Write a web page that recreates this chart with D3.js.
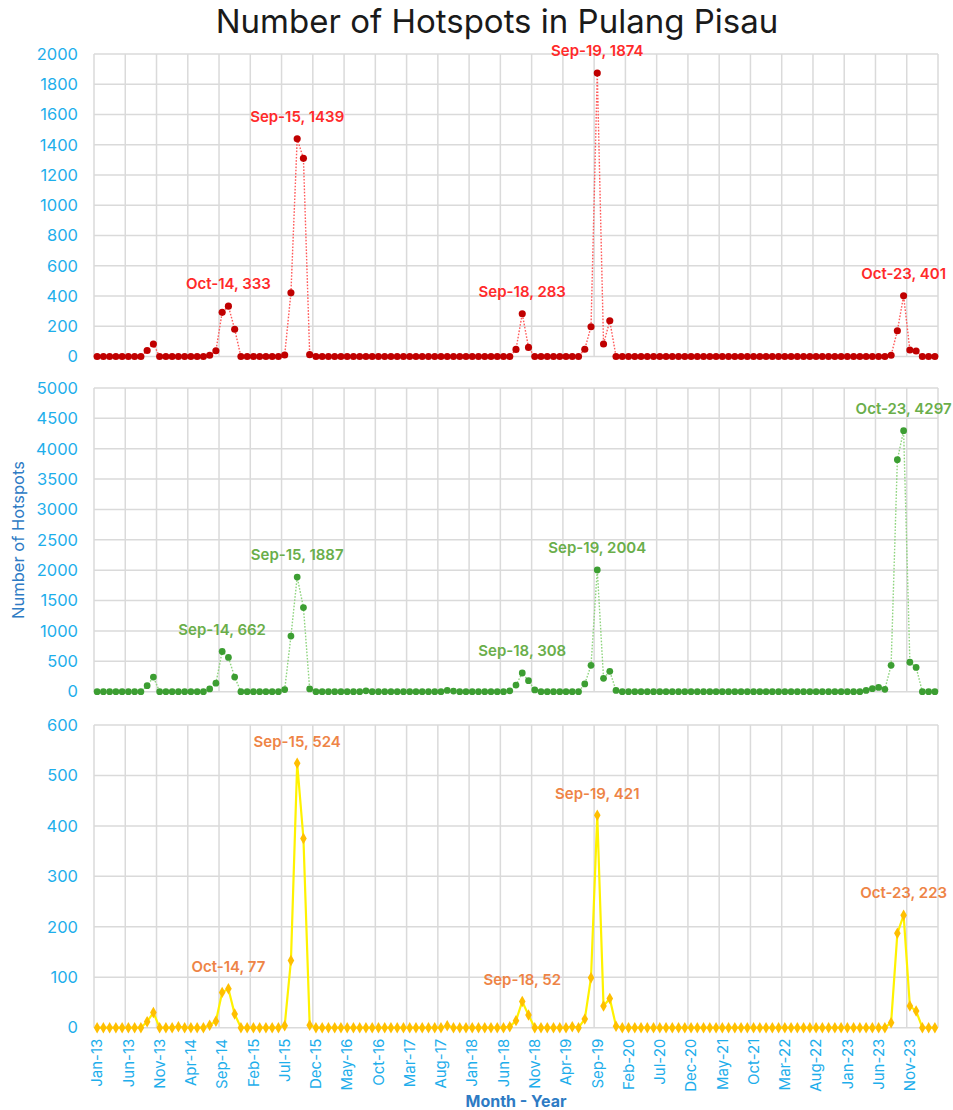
<!DOCTYPE html>
<html>
<head>
<meta charset="utf-8">
<script src="https://cdn.jsdelivr.net/npm/d3@7"></script>
<style>
  body { margin: 0; background: #ffffff; }
  svg { display: block; }
  text { font-family: Inter, "Noto Sans", "Liberation Sans", sans-serif; }
</style>
</head>
<body>
<svg id="chart" width="953" height="1110"></svg>
<script>
// Monthly categories, Jan-13 through Mar-24
const months = d3.timeMonth
  .range(new Date(2013, 0, 1), new Date(2024, 3, 1))
  .map(d3.timeFormat("%b-%y"));

// Category labels shown on the shared x axis (every fifth month)
const tickLabels = ["Jan-13", "Jun-13", "Nov-13", "Apr-14", "Sep-14", "Feb-15", "Jul-15",
  "Dec-15", "May-16", "Oct-16", "Mar-17", "Aug-17", "Jan-18", "Jun-18", "Nov-18", "Apr-19",
  "Sep-19", "Feb-20", "Jul-20", "Dec-20", "May-21", "Oct-21", "Mar-22", "Aug-22", "Jan-23",
  "Jun-23", "Nov-23"];

// Hotspot counts per month, one row per year (2024 has Jan–Mar)
const hotspotsTop = [
  0, 0, 0, 0, 0, 0, 0, 0, 40, 82, 0, 0,
  0, 0, 0, 0, 0, 0, 8, 38, 292, 333, 180, 0,
  0, 0, 0, 0, 0, 0, 10, 421, 1439, 1310, 12, 0,
  0, 0, 0, 0, 0, 0, 0, 0, 0, 0, 0, 0,
  0, 0, 0, 0, 0, 0, 0, 0, 0, 0, 0, 0,
  0, 0, 0, 0, 0, 0, 0, 47, 283, 60, 0, 0,
  0, 0, 0, 0, 0, 0, 48, 197, 1874, 83, 236, 0,
  0, 0, 0, 0, 0, 0, 0, 0, 0, 0, 0, 0,
  0, 0, 0, 0, 0, 0, 0, 0, 0, 0, 0, 0,
  0, 0, 0, 0, 0, 0, 0, 0, 0, 0, 0, 0,
  0, 0, 0, 0, 0, 0, 0, 8, 170, 401, 43, 36,
  0, 0, 0
];

const hotspotsMiddle = [
  0, 0, 0, 0, 0, 0, 0, 0, 100, 240, 0, 0,
  0, 0, 0, 0, 0, 0, 45, 140, 662, 565, 240, 0,
  0, 0, 0, 0, 0, 0, 35, 915, 1887, 1385, 45, 0,
  0, 0, 0, 0, 0, 0, 0, 15, 0, 0, 0, 0,
  0, 0, 0, 0, 0, 0, 0, 0, 20, 10, 0, 0,
  0, 0, 0, 0, 0, 0, 15, 110, 308, 181, 30, 0,
  0, 0, 0, 0, 0, 0, 127, 435, 2004, 220, 335, 20,
  0, 0, 0, 0, 0, 0, 0, 0, 0, 0, 0, 0,
  0, 0, 0, 0, 0, 0, 0, 0, 0, 0, 0, 0,
  0, 0, 0, 0, 0, 0, 0, 0, 0, 0, 0, 0,
  0, 0, 0, 20, 50, 70, 40, 435, 3820, 4297, 485, 400,
  0, 0, 0
];

const hotspotsBottom = [
  0, 0, 0, 0, 0, 0, 0, 0, 12, 30, 0, 0,
  0, 2, 0, 0, 0, 0, 5, 13, 70, 77, 27, 0,
  0, 0, 0, 0, 0, 0, 4, 133, 524, 375, 5, 0,
  0, 0, 0, 0, 0, 0, 0, 0, 0, 0, 0, 0,
  0, 0, 0, 0, 0, 0, 0, 0, 4, 0, 0, 0,
  0, 0, 0, 0, 0, 0, 2, 14, 52, 25, 0, 0,
  0, 0, 0, 0, 2, 0, 17, 99, 421, 43, 58, 3,
  0, 0, 0, 0, 0, 0, 0, 0, 0, 0, 0, 0,
  0, 0, 0, 0, 0, 0, 0, 0, 0, 0, 0, 0,
  0, 0, 0, 0, 0, 0, 0, 0, 0, 0, 0, 0,
  0, 0, 0, 0, 0, 0, 0, 10, 187, 223, 43, 33,
  0, 0, 0
];

// Months that carry a "Month, value" call-out in each panel
const labelledTop = ["Oct-14", "Sep-15", "Sep-18", "Sep-19", "Oct-23"];
const labelledMiddle = ["Sep-14", "Sep-15", "Sep-18", "Sep-19", "Oct-23"];
const labelledBottom = ["Oct-14", "Sep-15", "Sep-18", "Sep-19", "Oct-23"];

// ---------------------------------------------------------------------------
const svg = d3.select("#chart");
const plotLeft = 94, plotRight = 938;
const tickColor = "#1EAEEB";
const titleColor = "#2E7BC4";
const gridColor = "#dadada";

const x = d3.scaleBand().domain(months).range([plotLeft, plotRight]).paddingInner(0).paddingOuter(0);
const cx = m => x(m) + x.bandwidth() / 2;

const panels = [
  { values: hotspotsTop, labelled: labelledTop, top: 54, bottom: 356.5, max: 2000, step: 200,
    line: "#ff5a5a", lineWidth: 1.4, dash: "1.6 1.6",
    marker: "#c00000", symbol: d3.symbolCircle, size: 40, label: "#ff2a2a" },
  { values: hotspotsMiddle, labelled: labelledMiddle, top: 388, bottom: 691.7, max: 5000, step: 500,
    line: "#8fd47f", lineWidth: 1.4, dash: "1.6 1.6",
    marker: "#3c9e32", symbol: d3.symbolCircle, size: 36, label: "#6aae4a" },
  { values: hotspotsBottom, labelled: labelledBottom, top: 725, bottom: 1027.7, max: 600, step: 100,
    line: "#fff200", lineWidth: 2.2, dash: null,
    marker: "#ffbf00", symbol: d3.symbolDiamond, size: 38, label: "#ee8446" }
];

panels.forEach(p => {
  const y = d3.scaleLinear().domain([0, p.max]).range([p.bottom, p.top]);
  const yTicks = d3.range(0, p.max + p.step / 2, p.step);
  const g = svg.append("g");

  // gridlines
  g.append("g").selectAll("line").data(yTicks).join("line")
    .attr("x1", plotLeft).attr("x2", plotRight)
    .attr("y1", d => y(d)).attr("y2", d => y(d))
    .attr("stroke", gridColor).attr("stroke-width", 1.5);
  const vLines = tickLabels.map(m => x(m)).concat([plotRight]);
  g.append("g").selectAll("line").data(vLines).join("line")
    .attr("x1", d => d).attr("x2", d => d)
    .attr("y1", p.top).attr("y2", p.bottom)
    .attr("stroke", gridColor).attr("stroke-width", 1.5);

  // y axis
  const yAxis = g.append("g")
    .attr("transform", `translate(${plotLeft},0)`)
    .call(d3.axisLeft(y).tickValues(yTicks).tickSize(0).tickPadding(16).tickFormat(d3.format("d")));
  yAxis.select(".domain").remove();
  yAxis.selectAll("text")
    .attr("fill", tickColor).style("font-size", "16.5px");

  // series line
  const pts = months.map((m, i) => ({ m, v: p.values[i] }));
  g.append("path").datum(pts)
    .attr("fill", "none")
    .attr("stroke", p.line)
    .attr("stroke-width", p.lineWidth)
    .attr("stroke-dasharray", p.dash)
    .attr("d", d3.line().x(d => cx(d.m)).y(d => y(d.v)));

  // markers
  g.append("g").selectAll("path").data(pts).join("path")
    .attr("transform", d => `translate(${cx(d.m)},${y(d.v)})`)
    .attr("d", d3.symbol().type(p.symbol).size(p.size))
    .attr("fill", p.marker);

  // call-outs
  g.append("g").selectAll("text").data(pts.filter(d => p.labelled.includes(d.m))).join("text")
    .attr("x", d => cx(d.m))
    .attr("y", d => y(d.v) - 22)
    .attr("dy", "0.35em")
    .attr("text-anchor", "middle")
    .attr("fill", p.label)
    .style("font-size", "15px")
    .style("font-weight", 600)
    .text(d => `${d.m}, ${d.v}`);
});

// shared x axis under the bottom panel
const last = panels[panels.length - 1];
const xAxis = svg.append("g")
  .attr("transform", `translate(0,${last.bottom})`)
  .call(d3.axisBottom(x).tickValues(tickLabels).tickSize(0));
xAxis.select(".domain").remove();
xAxis.selectAll("text")
  .attr("transform", "rotate(-90)")
  .attr("x", -11).attr("y", 0).attr("dy", "0.35em")
  .attr("text-anchor", "end")
  .attr("fill", tickColor)
  .style("font-size", "15px");

// titles
svg.append("text")
  .attr("x", 497).attr("y", 33)
  .attr("text-anchor", "middle")
  .attr("fill", "#1a1a1a")
  .style("font-size", "33px")
  .text("Number of Hotspots in Pulang Pisau");

svg.append("text")
  .attr("transform", "translate(24,540) rotate(-90)")
  .attr("text-anchor", "middle")
  .attr("fill", titleColor)
  .style("font-size", "16.5px")
  .text("Number of Hotspots");

svg.append("text")
  .attr("x", (plotLeft + plotRight) / 2).attr("y", 1107)
  .attr("text-anchor", "middle")
  .attr("fill", titleColor)
  .style("font-size", "16px")
  .style("font-weight", 700)
  .text("Month - Year");
</script>
</body>
</html>
